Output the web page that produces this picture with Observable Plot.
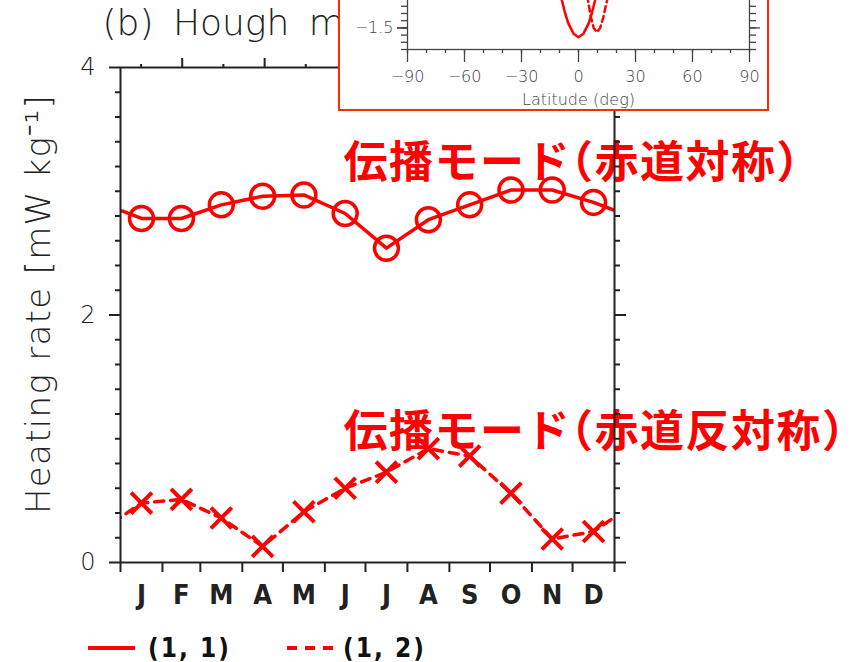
<!DOCTYPE html>
<html><head><meta charset="utf-8">
<script src="https://cdn.jsdelivr.net/npm/d3@7"></script>
<script src="https://cdn.jsdelivr.net/npm/@observablehq/plot@0.6"></script>
<style>
html,body{margin:0;padding:0;background:#fff;overflow:hidden;}
#wrap{position:relative;width:860px;height:662px;overflow:hidden;background:#fff;}
#main{position:absolute;left:0;top:0;}
#inset{position:absolute;left:338px;top:-200px;width:427px;height:307px;border:2px solid #ff2a00;background:#fff;}
#legend{position:absolute;left:0;top:633px;width:860px;height:29px;}
</style></head>
<body><div id="wrap"><div id="main"></div><div id="inset"></div><div id="legend"></div></div>
<script>
// ---- data ----
const months = ["J","F","M","A","M","J","J","A","S","O","N","D"];
const monthStartDay = [0,31,59,90,120,151,181,212,243,273,304,334,365];
const mode11 = [2.78,2.78,2.89,2.96,2.97,2.82,2.54,2.77,2.89,3.01,3.01,2.91];
const mode12 = [0.48,0.51,0.36,0.13,0.41,0.60,0.73,0.92,0.86,0.56,0.19,0.25];
const yMajorTicks = [0,2,4];
const topTickSmall = [15.2,76.0,136.9,197.7,258.5,319.4];
const topTickBig = [45.6,106.5,167.3,228.1,289.0,349.8];
const insetLat11 = [-12,-10.5,-8.7,-7,-5.3,-2.6,0,2.6,5.3,7,8.7,10.5,12];
const insetVal11 = [-0.68,-0.9,-1.12,-1.3,-1.44,-1.58,-1.63,-1.58,-1.44,-1.3,-1.12,-0.9,-0.68];
const insetLat12 = [3,5,6.5,8,9.7,11.4,13,15,17];
const insetVal12 = [-0.78,-1.12,-1.35,-1.5,-1.56,-1.5,-1.36,-1.12,-0.8];
const latMajor = [-90,-60,-30,0,30,60,90];
const insetYMajor = [-1.5,-1.0,-0.5,0,0.5,1.0];
const insetYLabelled = [-1.5];
const titleText = "(b) Hough m";   // the rest of the title is hidden by the inset in the reference
const yTitle = "Heating rate [mW kg⁻¹]";
const labelSym = "伝播モード（赤道対称）";
const labelAnti = "伝播モード（赤道反対称）";
const legendLabels = ["(1, 1)","(1, 2)"];
const latLabel = "Latitude (deg)";

const RED = "#ff0000";
const INK = "#222";
const thinFont = "DejaVu Sans";
const boldNarrow = "'Liberation Sans Narrow','DejaVu Sans Condensed','Liberation Sans',sans-serif";
const jpFont = "'Noto Sans CJK JP',sans-serif";

// month centres and table rows
const monthMid = months.map((m,i)=>(monthStartDay[i]+monthStartDay[i+1])/2);
const pts11 = months.map((m,i)=>({day: monthMid[i], v: mode11[i]}));
const pts12 = months.map((m,i)=>({day: monthMid[i], v: mode12[i]}));
// cyclic: repeat December before January and January after December (clipped by the frame)
const wrap = pts => [{day: pts[11].day-365, v: pts[11].v}, ...pts, {day: pts[0].day+365, v: pts[0].v}];
const yMinor = d3.range(0.2, 4, 0.2).filter(v => Math.abs(v-2) > 1e-6);
const blank = () => "";

const main = Plot.plot({
  width: 860, height: 640,
  marginLeft: 120, marginRight: 246, marginTop: 67, marginBottom: 78,
  x: {domain: [0,365], axis: null},
  y: {domain: [0,4], axis: null},
  style: {background: "transparent", overflow: "visible", fontFamily: thinFont, color: INK},
  marks: [
    Plot.text([titleText], {frameAnchor: "top-left", text: d=>d, dx: -18, dy: -44, lineAnchor: "middle", fontSize: 36, fontWeight: 200, textAnchor: "start", fill: INK}),
    Plot.text([labelSym], {frameAnchor: "top-left", text: d=>d, dx: 223, dy: 96, lineAnchor: "middle", fontSize: 44, fontWeight: 700, fontFamily: jpFont, textAnchor: "start", fill: RED}),
    Plot.text([labelAnti], {frameAnchor: "top-left", text: d=>d, dx: 223, dy: 365, lineAnchor: "middle", fontSize: 44, fontWeight: 700, fontFamily: jpFont, textAnchor: "start", fill: RED}),
    Plot.line(wrap(pts11), {x: "day", y: "v", stroke: RED, strokeWidth: 3.5, clip: true}),
    Plot.dot(pts11, {x: "day", y: "v", r: 12, stroke: RED, strokeWidth: 3.5, fill: "none"}),
    Plot.line(wrap(pts12), {x: "day", y: "v", stroke: RED, strokeWidth: 3.5, strokeDasharray: "9,7", clip: true}),
    Plot.dot(pts12, {x: "day", y: "v", symbol: "times", r: 9.5, stroke: RED, strokeWidth: 4}),
    Plot.frame({stroke: INK, strokeWidth: 2}),
    Plot.axisY({anchor: "left", ticks: yMajorTicks, tickSize: 11, strokeWidth: 2, tickFormat: blank, label: null, color: INK}),
    Plot.axisY({anchor: "left", ticks: yMinor, tickSize: 5, strokeWidth: 2, tickFormat: blank, label: null, color: INK}),
    Plot.axisY({anchor: "right", ticks: yMajorTicks, tickSize: 11, strokeWidth: 2, tickFormat: blank, label: null, color: INK}),
    Plot.axisY({anchor: "right", ticks: yMinor, tickSize: 5, strokeWidth: 2, tickFormat: blank, label: null, color: INK}),
    Plot.axisY({anchor: "left", ticks: yMajorTicks, tickSize: 0, tickPadding: 25, fontSize: 24, fontWeight: 200, tickFormat: d=>String(d), label: null, color: INK}),
    Plot.axisX({anchor: "bottom", ticks: monthStartDay, tickSize: 10, strokeWidth: 2, tickFormat: blank, label: null, color: INK}),
    Plot.axisX({anchor: "bottom", ticks: monthMid, tickSize: 0, tickPadding: 22, fontSize: 27, fontWeight: "bold", fontFamily: boldNarrow, tickFormat: d => months[monthMid.indexOf(d)], label: null, color: INK}),
    Plot.axisX({anchor: "top", ticks: topTickBig, tickSize: 10, strokeWidth: 2, tickFormat: blank, label: null, color: INK}),
    Plot.axisX({anchor: "top", ticks: topTickSmall, tickSize: 4, strokeWidth: 2, tickFormat: blank, label: null, color: INK}),
    Plot.text([yTitle], {frameAnchor: "left", text: d=>d, dx: -81, dy: -11, rotate: -90, lineAnchor: "middle", fontSize: 34, fontWeight: 200, textAnchor: "middle", fill: INK})
  ]
});
document.getElementById("main").appendChild(main);
const msel = d3.select(main);
msel.selectAll("text").filter(function(){ return this.textContent === titleText; }).style("word-spacing", "8px");
msel.selectAll("text").filter(function(){ return this.textContent === yTitle; }).style("letter-spacing", "1.3px");
msel.selectAll("text").filter(function(){ return this.textContent === labelSym || this.textContent === labelAnti; })
  .style("font-feature-settings", "\"halt\" 1").style("letter-spacing", "1.5px");

// ---- inset ----
const rows11 = insetLat11.map((lat,i)=>({lat, v: insetVal11[i]}));
const rows12 = insetLat12.map((lat,i)=>({lat, v: insetVal12[i]}));
const fmtMinus = d => (d < 0 ? "−" : "") + Math.abs(d);
const INSET_INK = "#444";
const inset = Plot.plot({
  width: 427, height: 307,
  marginLeft: 67, marginRight: 18, marginTop: 31, marginBottom: 60,
  x: {domain: [-90,90], axis: null},
  y: {domain: [-1.8,1.2], axis: null},
  style: {background: "#fff", overflow: "visible", fontFamily: thinFont, color: INSET_INK},
  marks: [
    Plot.line(rows11, {x: "lat", y: "v", stroke: RED, strokeWidth: 2.5, clip: true}),
    Plot.line(rows12, {x: "lat", y: "v", stroke: RED, strokeWidth: 2.5, strokeDasharray: "6,4", clip: true}),
    Plot.frame({stroke: INSET_INK, strokeWidth: 1.3}),
    Plot.axisX({anchor: "bottom", ticks: d3.range(-90, 91, 10), tickSize: 4, strokeWidth: 1.3, tickFormat: blank, label: null, color: INSET_INK}),
    Plot.axisX({anchor: "bottom", ticks: latMajor, tickSize: 13, tickPadding: 8, strokeWidth: 1.3, fontSize: 16, fontWeight: 200, tickFormat: fmtMinus, label: null, color: INSET_INK}),
    Plot.axisY({anchor: "left", ticks: d3.range(-1.8, 1.21, 0.1), tickSize: 6, strokeWidth: 1.3, tickFormat: blank, label: null, color: INSET_INK}),
    Plot.axisY({anchor: "left", ticks: insetYMajor, tickSize: 10, strokeWidth: 1.3, tickFormat: blank, label: null, color: INSET_INK}),
    Plot.axisY({anchor: "left", ticks: insetYLabelled, tickSize: 10, tickPadding: 4, strokeWidth: 1.3, fontSize: 16, fontWeight: 200, tickFormat: d => (d < 0 ? "−" : "") + Math.abs(d).toFixed(1), label: null, color: INSET_INK}),
    Plot.axisY({anchor: "right", ticks: d3.range(-1.8, 1.21, 0.1), tickSize: 6, strokeWidth: 1.3, tickFormat: blank, label: null, color: INSET_INK}),
    Plot.axisY({anchor: "right", ticks: insetYMajor, tickSize: 10, strokeWidth: 1.3, tickFormat: blank, label: null, color: INSET_INK}),
    Plot.text([latLabel], {frameAnchor: "bottom", text: d=>d, dy: 50, lineAnchor: "middle", fontSize: 16, fontWeight: 200, fill: INSET_INK})
  ]
});
document.getElementById("inset").appendChild(inset);

// ---- legend ----
const lg = d3.select("#legend").append("svg").attr("width", 860).attr("height", 29).style("overflow", "visible");
lg.append("line").attr("x1", 88).attr("x2", 135).attr("y1", 15).attr("y2", 15).attr("stroke", RED).attr("stroke-width", 4);
lg.append("line").attr("x1", 287).attr("x2", 333).attr("y1", 15).attr("y2", 15).attr("stroke", RED).attr("stroke-width", 4).attr("stroke-dasharray", "10,8");
[[148, legendLabels[0]], [343, legendLabels[1]]].forEach(([x, t]) => {
  lg.append("text").attr("x", x).attr("y", 23.5).text(t)
    .attr("font-family", boldNarrow).attr("font-weight", "bold").attr("font-size", 26)
    .style("letter-spacing", "2px").attr("fill", "#111");
});
</script>
</body></html>
